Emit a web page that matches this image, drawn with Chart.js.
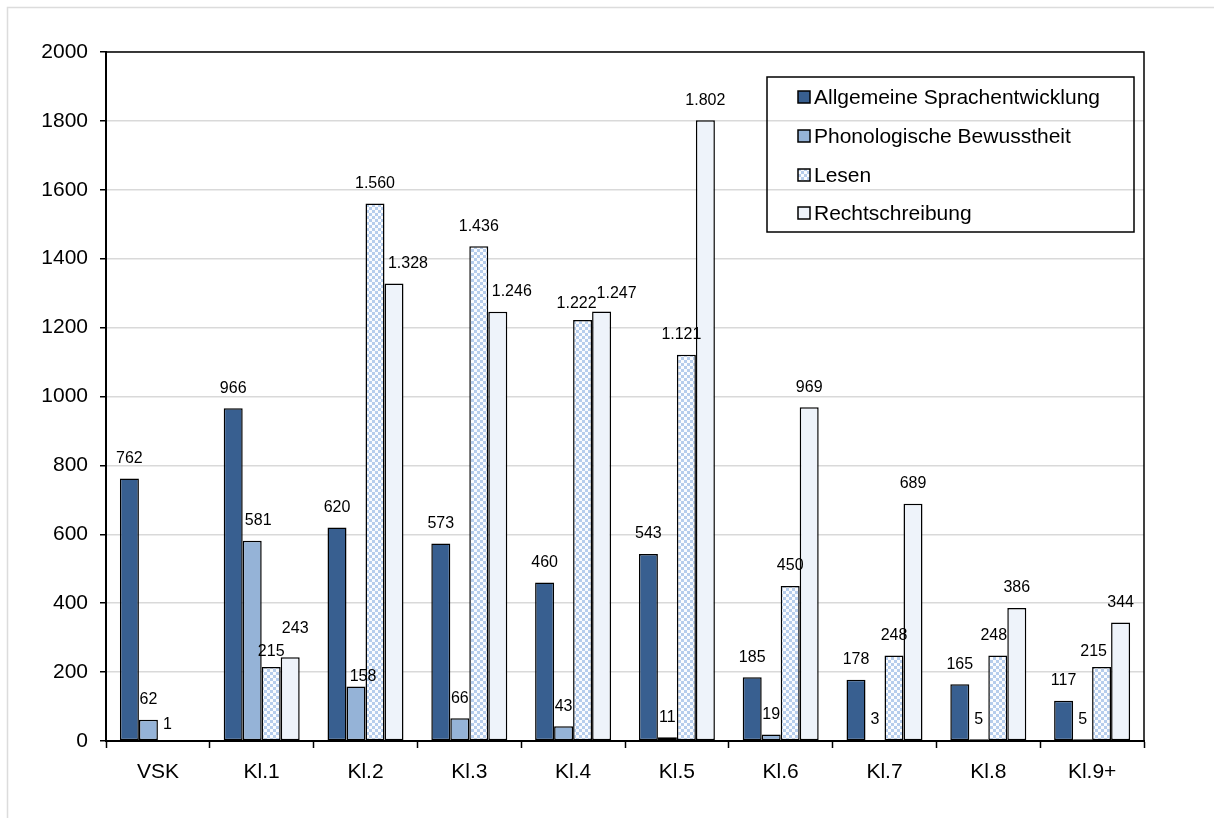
<!DOCTYPE html>
<html>
<head>
<meta charset="utf-8">
<script src="https://cdn.jsdelivr.net/npm/chart.js@4.4.1/dist/chart.umd.min.js"></script>
<style>
  html, body { margin: 0; padding: 0; background: #ffffff; }
  #c { display: block; }
</style>
</head>
<body>
<canvas id="c" width="1214" height="818"></canvas>
<script>
// Förderbedarf nach Klassenstufe
const categories = ['VSK', 'Kl.1', 'Kl.2', 'Kl.3', 'Kl.4', 'Kl.5', 'Kl.6', 'Kl.7', 'Kl.8', 'Kl.9+'];
const seriesNames = ['Allgemeine Sprachentwicklung', 'Phonologische Bewusstheit', 'Lesen', 'Rechtschreibung'];
const allgemeineSprachentwicklung = [762, 966, 620, 573, 460, 543, 185, 178, 165, 117];
const phonologischeBewusstheit = [62, 581, 158, 66, 43, 11, 19, 3, 5, 5];
const lesen = [1, 215, 1560, 1436, 1222, 1121, 450, 248, 248, 215];
const rechtschreibung = [null, 243, 1328, 1246, 1247, 1802, 969, 689, 386, 344];
const yMin = 0, yMax = 2000, yStep = 200;

// Small hand-placed nudges for value labels that would otherwise collide: [series, category, dx, dy]
const labelShift = [
  [1, 1, 6, 0], [1, 2, 7, 10],
  [2, 0, 0, 4], [2, 1, 0, 5], [2, 4, -6, 4], [2, 5, -5, 0], [2, 8, -4, 0], [2, 9, -8, 5],
  [3, 1, 5, -9], [3, 2, 14, 0], [3, 3, 14, 0], [3, 4, 15, 2]
];

const FONT = '"Liberation Sans", Arial, sans-serif';

// checkerboard fill for "Lesen"
function checker() {
  const c = document.createElement('canvas');
  c.width = 6; c.height = 6;
  const g = c.getContext('2d');
  g.fillStyle = '#fbfcfe'; g.fillRect(0, 0, 6, 6);
  g.fillStyle = '#b6cdec';
  g.fillRect(0, 0, 3, 3); g.fillRect(3, 3, 3, 3);
  return g.createPattern(c, 'repeat');
}
const lesenFill = checker();

const fills = ['#385f90', '#95b3d7', lesenFill, '#eef3fa'];
const values = [allgemeineSprachentwicklung, phonologischeBewusstheit, lesen, rechtschreibung];

function fmt(v) {
  return String(v).replace(/\B(?=(\d{3})+(?!\d))/g, '.');
}

const frame = {
  id: 'frame',
  beforeDraw(chart) {
    const ctx = chart.ctx;
    ctx.save();
    ctx.fillStyle = '#ffffff';
    ctx.fillRect(0, 0, chart.width, chart.height);
    ctx.strokeStyle = '#dcdcdc';
    ctx.lineWidth = 1.5;
    ctx.strokeRect(7.5, 7.5, chart.width + 50, chart.height + 50);
    ctx.restore();
  },
  afterDatasetsDraw(chart) {
    const ctx = chart.ctx;
    ctx.save();
    ctx.font = '16px ' + FONT;
    ctx.fillStyle = '#000';
    ctx.textAlign = 'center';
    ctx.textBaseline = 'middle';
    chart.data.datasets.forEach((ds, di) => {
      const meta = chart.getDatasetMeta(di);
      meta.data.forEach((bar, i) => {
        const v = ds.data[i];
        if (v === null || v === undefined) return;
        let dx = 0, dy = 0;
        labelShift.forEach(s => { if (s[0] === di && s[1] === i) { dx = s[2]; dy = s[3]; } });
        ctx.fillText(fmt(v), bar.x + dx, bar.y - 20 + dy);
      });
    });
    ctx.restore();
  },
  afterDraw(chart) {
    const ctx = chart.ctx;
    const a = chart.chartArea;
    ctx.save();
    // plot area frame
    ctx.strokeStyle = '#000';
    ctx.lineWidth = 1.5;
    ctx.strokeRect(a.left, a.top, a.right - a.left, a.bottom - a.top);
    // legend inside the plot area, top right
    const w = 367, h = 155;
    const lx = a.right - 10 - w, ly = a.top + 25;
    ctx.strokeRect(lx, ly, w, h);
    ctx.font = '21px ' + FONT;
    ctx.textAlign = 'left';
    ctx.textBaseline = 'middle';
    const rows = [20, 59, 98, 136];
    chart.data.datasets.forEach((ds, di) => {
      const cy = ly + rows[di];
      ctx.fillStyle = ds.backgroundColor;
      ctx.fillRect(lx + 31, cy - 6, 12, 12);
      ctx.lineWidth = 1.5;
      ctx.strokeStyle = '#000';
      ctx.strokeRect(lx + 31, cy - 6, 12, 12);
      ctx.fillStyle = '#000';
      ctx.fillText(ds.label, lx + 47, cy + 1);
    });
    ctx.restore();
  }
};

new Chart(document.getElementById('c'), {
  type: 'bar',
  data: {
    labels: categories,
    datasets: seriesNames.map((name, i) => ({
      label: name,
      data: values[i],
      backgroundColor: fills[i],
      borderColor: '#000',
      borderWidth: 1.5,
      borderSkipped: false,
      categoryPercentage: 0.732,
      barPercentage: 1.0
    }))
  },
  options: {
    responsive: false,
    animation: false,
    devicePixelRatio: 1,
    layout: { padding: { left: 0, top: 52, right: 70, bottom: 0 } },
    plugins: { legend: { display: false }, tooltip: { enabled: false } },
    scales: {
      x: {
        grid: { display: true, drawOnChartArea: false, drawTicks: true, tickLength: 7, tickColor: '#000', tickWidth: 1.5, offset: true },
        border: { color: '#000', width: 2 },
        ticks: { color: '#000', font: { family: FONT, size: 21 }, padding: 12 },
        afterFit(s) { s.height = 77; }
      },
      y: {
        min: yMin, max: yMax,
        ticks: { stepSize: yStep, color: '#000', font: { family: FONT, size: 21 }, padding: 12,
                 callback: v => String(v) },
        grid: { color: '#d9d9d9', lineWidth: 1.5, tickColor: '#000', tickLength: 6, tickWidth: 1.5 },
        border: { color: '#000', width: 2 },
        afterFit(s) { s.width = 106; }
      }
    }
  },
  plugins: [frame]
});
</script>
</body>
</html>
